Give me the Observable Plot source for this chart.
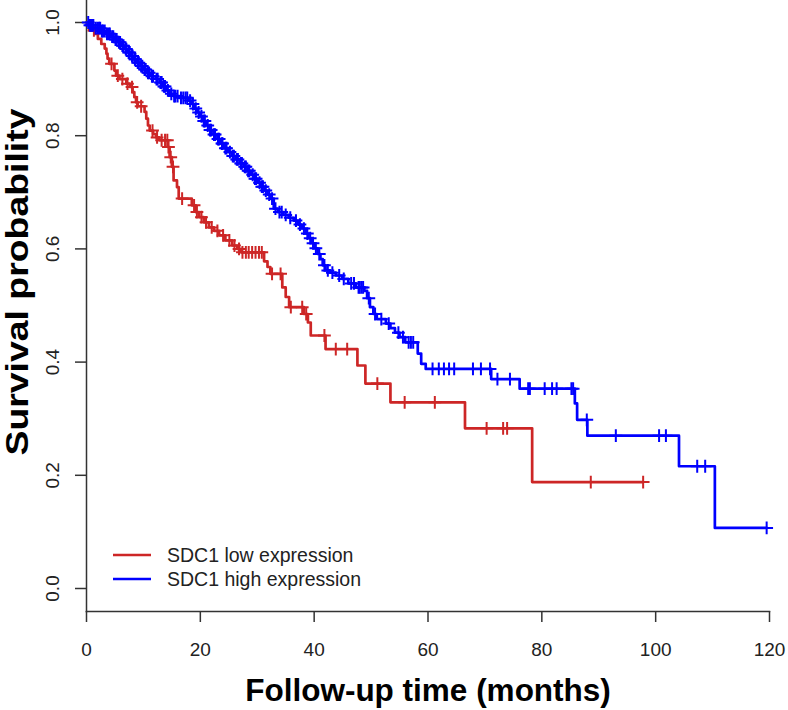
<!DOCTYPE html>
<html><head><meta charset="utf-8">
<script src="https://cdn.jsdelivr.net/npm/d3@7"></script>
<script src="https://cdn.jsdelivr.net/npm/@observablehq/plot@0.6"></script>
<style>body{margin:0;background:#fff}#chart{width:788px;height:710px}</style>
</head><body><div id="chart"></div>
<script>
// ---- data ----
const xTicks = [0, 20, 40, 60, 80, 100, 120];
const yTicks = [0, 0.2, 0.4, 0.6, 0.8, 1.0];
const xLabel = "Follow-up time (months)";
const yLabel = "Survival probability";
const legendLabels = ["SDC1 low expression", "SDC1 high expression"];
const seriesColors = ["#CD2626", "#0000FF"];

// SDC1 low expression: event times and survival after each step
const lowTimes = [0.5,1.4,2.0,2.6,3.2,3.5,3.7,4.0,4.9,5.2,5.8,7.0,7.6,8.1,8.4,8.7,9.0,10.2,10.5,10.8,11.1,11.7,12.2,12.8,14.3,14.6,15.0,15.3,15.9,16.2,18.5,19.2,19.8,20.6,21.5,22.4,23.3,24.4,25.6,26.5,27.2,31.2,31.8,32.3,34.4,35.0,35.6,38.2,38.9,39.4,42.0,47.6,49.0,53.4,66.5,78.3];
const lowSurv = [0.986,0.980,0.971,0.962,0.954,0.945,0.936,0.927,0.915,0.906,0.900,0.892,0.886,0.877,0.868,0.859,0.852,0.842,0.830,0.818,0.809,0.803,0.797,0.792,0.780,0.762,0.745,0.721,0.709,0.689,0.677,0.665,0.656,0.647,0.638,0.632,0.624,0.615,0.606,0.600,0.594,0.578,0.568,0.556,0.532,0.515,0.497,0.485,0.470,0.447,0.423,0.394,0.362,0.329,0.283,0.188];
const lowEnd = 97.8;
const lowCensor = [1.3,4.4,5.5,6.3,7.2,8.0,8.9,9.6,11.6,12.4,13.2,13.8,14.2,14.4,14.8,15.2,16.8,18.9,19.4,20.2,21.0,22.0,23.0,24.0,25.1,26.0,26.8,27.4,28.0,28.5,29.1,29.7,30.3,30.8,32.6,34.1,35.9,37.9,38.6,41.8,43.8,45.8,51.1,55.9,61.2,70.3,73.2,73.9,88.6,97.8];

// SDC1 high expression
const highTimes = [0.5,1.5,2.5,3.3,4.3,5.0,5.6,6.2,6.8,7.3,7.8,8.3,8.9,9.5,10.1,10.7,11.4,12.2,12.9,13.5,14.0,14.6,15.3,16.3,17.9,18.4,18.9,19.4,19.9,20.4,21.0,21.6,22.3,23.0,23.6,24.2,24.9,25.6,26.3,27.0,27.7,28.3,28.9,29.5,30.1,30.7,31.3,31.8,32.3,32.9,33.6,34.6,35.5,36.4,37.2,37.8,38.5,39.0,39.5,40.0,40.6,41.1,41.5,42.0,42.8,43.8,44.9,46.0,47.3,48.8,49.3,49.8,50.4,51.0,52.6,53.4,54.2,55.0,56.0,58.2,58.8,59.6,71.1,76.1,85.8,86.2,88.0,104.1,110.4];
const highSurv = [0.995,0.990,0.985,0.980,0.975,0.970,0.965,0.959,0.953,0.947,0.941,0.935,0.929,0.923,0.917,0.911,0.905,0.900,0.894,0.887,0.880,0.874,0.870,0.867,0.862,0.856,0.848,0.841,0.834,0.826,0.818,0.810,0.802,0.794,0.786,0.778,0.771,0.764,0.758,0.751,0.745,0.738,0.731,0.724,0.717,0.710,0.703,0.696,0.689,0.671,0.665,0.660,0.655,0.650,0.643,0.636,0.627,0.619,0.610,0.601,0.591,0.582,0.571,0.562,0.558,0.553,0.547,0.539,0.532,0.526,0.513,0.497,0.485,0.476,0.468,0.460,0.452,0.444,0.435,0.415,0.397,0.388,0.370,0.353,0.327,0.298,0.270,0.216,0.107];
const highEnd = 119.5;
const highCensor = [0.3,0.6,0.8,1.0,1.2,1.6,1.9,2.2,2.4,2.7,2.9,3.2,3.6,3.9,4.1,4.5,4.7,5.1,5.3,5.7,5.9,6.3,6.5,6.9,7.0,7.4,7.6,8.0,8.1,8.5,8.6,9.0,9.2,9.6,9.8,10.2,10.4,10.8,11.0,11.5,11.7,12.3,12.5,13.0,13.2,13.6,13.8,14.3,14.9,15.4,15.6,16.0,16.6,17.0,17.4,17.7,18.2,18.7,19.2,19.7,20.2,20.6,20.8,21.3,21.7,21.9,22.4,22.6,23.1,23.3,23.8,23.9,24.4,24.6,25.2,25.7,25.9,26.4,26.6,27.1,27.3,27.8,28.0,28.4,28.6,29.2,29.6,29.8,30.4,30.8,31.0,31.5,32.1,32.6,33.2,33.9,34.3,35.0,35.8,36.8,37.5,38.2,38.8,39.3,39.8,40.3,40.9,41.8,42.4,43.2,44.4,45.2,46.5,47.0,47.8,48.0,48.3,48.6,49.6,50.7,51.8,53.1,54.8,55.6,56.6,57.0,57.4,60.8,61.9,62.8,63.7,64.6,67.9,69.3,70.9,72.2,74.4,77.6,77.9,80.5,81.8,82.6,85.2,85.5,87.9,93.0,100.6,101.8,107.3,108.7,119.5];

// ---- helpers building tables from the arrays ----
function stepTable(times, surv, end) {
  const rows = [{t: 0, s: 1}];
  times.forEach((t, i) => rows.push({t, s: surv[i]}));
  rows.push({t: end, s: surv[surv.length - 1]});
  return rows;
}
function censorTable(times, surv, cens) {
  return cens.map(c => {
    let s = 1;
    for (let i = 0; i < times.length; i++) if (times[i] <= c) s = surv[i];
    return {t: c, s};
  });
}
const lowSteps = stepTable(lowTimes, lowSurv, lowEnd);
const highSteps = stepTable(highTimes, highSurv, highEnd);
const lowMarks = censorTable(lowTimes, lowSurv, lowCensor);
const highMarks = censorTable(highTimes, highSurv, highCensor);

const font = "'Liberation Sans', Arial, Helvetica, sans-serif";
const axisColor = "#333";

const chart = Plot.plot({
  width: 788, height: 710,
  marginLeft: 86, marginRight: 19, marginTop: 0, marginBottom: 99,
  style: {fontFamily: font, background: "#fff", overflow: "visible"},
  x: {domain: [0, 120], axis: null},
  y: {domain: [0, 1], range: [588, 22], axis: null},
  marks: [
    Plot.frame({anchor: "left", stroke: axisColor, strokeWidth: 1.5}),
    Plot.frame({anchor: "bottom", stroke: axisColor, strokeWidth: 1.5}),
    Plot.axisX({ticks: xTicks, tickSize: 11, fill: "none", stroke: axisColor, strokeWidth: 1.5, label: null}),
    Plot.axisY({ticks: yTicks, tickSize: 11, fill: "none", stroke: axisColor, strokeWidth: 1.5, label: null}),
    Plot.text(xTicks, {x: d => d, text: d => String(d), frameAnchor: "bottom", dy: 44, lineAnchor: "bottom", fontSize: 19, fill: "#222"}),
    Plot.text(yTicks, {y: d => d, text: d => d.toFixed(1), frameAnchor: "left", dx: -28, rotate: -90, textAnchor: "middle", lineAnchor: "bottom", fontSize: 19, fill: "#222"}),
    Plot.text([xLabel], {text: d => d, frameAnchor: "bottom", dy: 89, lineAnchor: "bottom", fontSize: 31.5, fontWeight: "bold", fill: "#000"}),
    Plot.text([yLabel], {text: d => d, frameAnchor: "left", dx: -59, dy: -24, rotate: -90, textAnchor: "middle", lineAnchor: "bottom", fontSize: 31, fontWeight: "bold", fill: "#000"}),
    Plot.line(lowSteps, {x: "t", y: "s", curve: "step-after", stroke: seriesColors[0], strokeWidth: 2.7}),
    Plot.line(highSteps, {x: "t", y: "s", curve: "step-after", stroke: seriesColors[1], strokeWidth: 2.7}),
    Plot.dot(lowMarks, {x: "t", y: "s", symbol: "plus", r: 4.2, stroke: seriesColors[0], strokeWidth: 2}),
    Plot.dot(highMarks, {x: "t", y: "s", symbol: "plus", r: 4.2, stroke: seriesColors[1], strokeWidth: 2})
  ]
});
document.getElementById("chart").appendChild(chart);

const svg = d3.select(chart);
// stretch the y-axis title along its length as in the reference
svg.selectAll("text").filter(function() { return this.textContent === yLabel; })
  .attr("textLength", 347).attr("lengthAdjust", "spacingAndGlyphs");

// legend inside the plot area, bottom-left
const lg = svg.append("g").attr("font-family", font).attr("font-size", 19.5).attr("text-anchor", "start");
legendLabels.forEach((lab, i) => {
  const y = 555 + i * 24;
  lg.append("line").attr("x1", 113).attr("x2", 151).attr("y1", y).attr("y2", y)
    .attr("stroke", seriesColors[i]).attr("stroke-width", 2.7);
  lg.append("text").attr("x", 167).attr("y", y).attr("dy", "0.35em").attr("fill", "#222").text(lab);
});
</script>
</body></html>
